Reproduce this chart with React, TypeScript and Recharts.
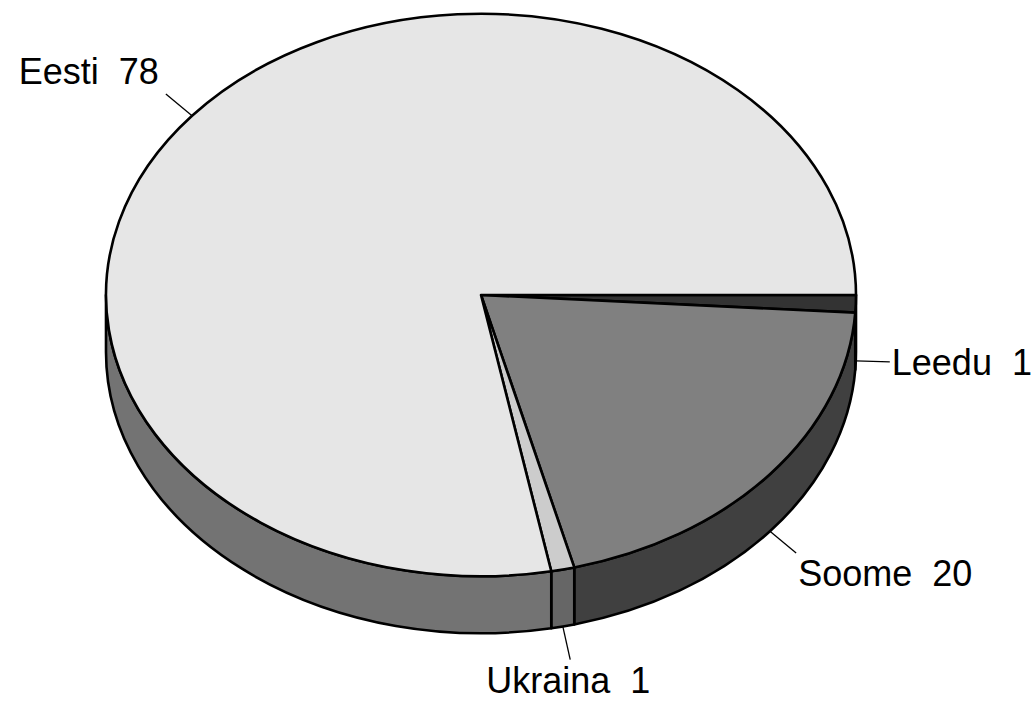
import React from 'react';
import { PieChart, Pie } from 'recharts';

// clockwise from 3 o'clock
const countries = ['Leedu', 'Soome', 'Ukraina', 'Eesti'];
const shares = [1, 20, 1, 78];

const topColors: Record<string, string> = {
  Leedu: '#333333',
  Soome: '#808080',
  Ukraina: '#cccccc',
  Eesti: '#e6e6e6',
};
const sideColors: Record<string, string> = {
  Leedu: '#1a1a1a',
  Soome: '#404040',
  Ukraina: '#666666',
  Eesti: '#737373',
};

const data = countries.map((name, i) => ({ name, value: shares[i] }));

const TILT = 0.75; // ry / rx
const DEPTH = 57;

function pt(cx: number, cy: number, rx: number, ry: number, deg: number) {
  const r = (deg * Math.PI) / 180;
  return [cx + rx * Math.cos(r), cy - ry * Math.sin(r)];
}

const Slice3D = (props: any) => {
  const { cx, cy, outerRadius, startAngle, endAngle, payload } = props;
  const name = payload?.name ?? props.name;
  const rx = outerRadius;
  const ry = outerRadius * TILT;
  const a0 = Math.min(startAngle, endAngle);
  const a1 = Math.max(startAngle, endAngle);

  const p1 = pt(cx, cy, rx, ry, a1);
  const p0 = pt(cx, cy, rx, ry, a0);
  const large = a1 - a0 > 180 ? 1 : 0;
  const top = `M${cx},${cy} L${p1[0]},${p1[1]} A${rx},${ry} 0 ${large} 1 ${p0[0]},${p0[1]} Z`;

  // visible side wall: the front half, angles in [-180, 0] (mod 360)
  const sides: string[] = [];
  [0, -360].forEach((k) => {
    const s = Math.max(a0, -180 + k);
    const e = Math.min(a1, k);
    if (e - s > 0.01) {
      const ps = pt(cx, cy, rx, ry, s);
      const pe = pt(cx, cy, rx, ry, e);
      sides.push(
        `M${pe[0]},${pe[1]} A${rx},${ry} 0 0 1 ${ps[0]},${ps[1]} L${ps[0]},${ps[1] + DEPTH} A${rx},${ry} 0 0 0 ${pe[0]},${pe[1] + DEPTH} Z`
      );
    }
  });

  return (
    <g>
      {sides.map((d, i) => (
        <path key={i} d={d} fill={sideColors[name]} stroke="#000" strokeWidth={2.6} strokeLinejoin="round" />
      ))}
      <path d={top} fill={topColors[name]} stroke="#000" strokeWidth={2.6} strokeLinejoin="round" />
    </g>
  );
};

const renderLabel = (props: any) => {
  const { cx, cy, outerRadius, midAngle } = props;
  const name = props.payload?.name ?? props.name;
  const value = props.payload?.value ?? props.value;
  const rx = outerRadius;
  const ry = outerRadius * TILT;
  const rad = (midAngle * Math.PI) / 180;
  const c = Math.cos(rad);
  const s = Math.sin(rad);
  const a = pt(cx, cy, rx, ry, midAngle);
  if (s < 0) a[1] += DEPTH;
  const len = 34;
  const e = [a[0] + len * c, a[1] - len * s];
  const anchor = c > 0.3 ? 'start' : c < -0.3 ? 'end' : 'middle';
  const tx = anchor === 'start' ? e[0] + 2 : anchor === 'end' ? e[0] - 7 : e[0] - 2;
  const ty = s < -0.3 ? e[1] + 33 : s > 0.3 ? e[1] - 10 : e[1] + 13;
  return (
    <g>
      <line x1={a[0]} y1={a[1]} x2={e[0]} y2={e[1]} stroke="#000" strokeWidth={1.3} />
      <text
        x={tx}
        y={ty}
        textAnchor={anchor}
        fill="#000"
        fontSize={36}
        fontFamily="'Liberation Sans', Arial, sans-serif"
        style={{ whiteSpace: 'pre' }}
      >
        {`${name}  ${value}`}
      </text>
    </g>
  );
};

export default function App() {
  return (
    <div style={{ position: 'absolute', left: 0, top: 0, background: '#fff' }}>
      <PieChart width={1034} height={701} margin={{ top: 0, right: 0, bottom: 0, left: 0 }}>
        <Pie
          data={data}
          dataKey="value"
          nameKey="name"
          cx={481}
          cy={295}
          outerRadius={375}
          startAngle={0}
          endAngle={-360}
          stroke="#000"
          isAnimationActive={false}
          shape={Slice3D}
          activeShape={Slice3D}
          label={renderLabel}
          labelLine={false}
        />
      </PieChart>
    </div>
  );
}
